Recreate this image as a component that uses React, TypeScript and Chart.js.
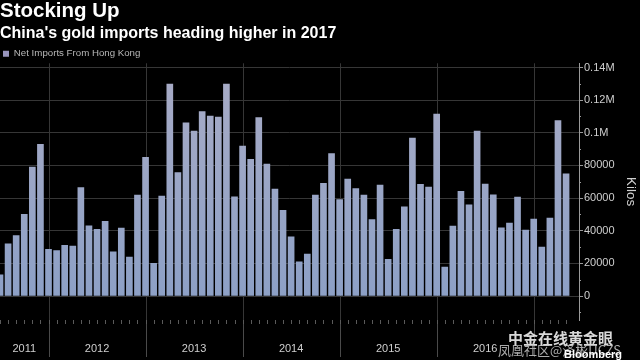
import React, { useEffect, useRef } from "react";
import { Chart, registerables } from "chart.js";

Chart.register(...registerables);

// ---- data ----
const START_YEAR = 2011;
const START_MONTH = 6; // first bar: June 2011 (month-end)
const netImports = [
  13000, 32000, 37000, 50000, 79000, 93000, 28600,
  27800, 31000, 30600, 66500, 43000, 40800, 45700, 27100, 41600, 23900, 61800, 84900,
  20000, 61200, 129800, 75700, 106100, 101000, 113000, 110200, 109600, 129800, 60800, 91800,
  83700, 109400, 80800, 65500, 52500, 36300, 21000, 25700, 61800, 69000, 87200, 59100,
  71700, 65800, 61800, 46800, 68000, 22400, 40800, 54700, 96700, 68400, 66700, 111400,
  17800, 42900, 64100, 55900, 101000, 68600, 62000, 41800, 44700, 60600, 40400, 47100,
  30000, 47700, 107500, 74900,
];
const months = netImports.map((_, i) => {
  const m = START_MONTH - 1 + i;
  return `${START_YEAR + Math.floor(m / 12)}-${String((m % 12) + 1).padStart(2, "0")}`;
});
const yearLabels = ["2011", "2012", "2013", "2014", "2015", "2016"];
const yTicks = [0, 20000, 40000, 60000, 80000, 100000, 120000, 140000];
const yMinorTicks = [-10000, 10000, 30000, 50000, 70000, 90000, 110000, 130000];

const X_MIN = 0;
const X_MAX = 71.6;
const Y_MIN = -14700;
const Y_MAX = 142600;

const BAR_TOP = "#a9acc6";
const BAR_BOTTOM = "#8a9fc6";
const GRID = "#363636";
const AXIS = "#9a9a9a";
const TEXT = "#cfcfcf";

// year boundaries (December bars, month-end dated -> Jan 1 gridline)
const decIndex = (y: number) => months.indexOf(`${y}-12`);
const boundaries = months
  .map((m, i) => (m.endsWith("-12") ? i : -1))
  .filter((i) => i >= 0);
const yearTickPos = yearLabels.map((ys) => {
  const y = Number(ys);
  const start = y === START_YEAR ? X_MIN : decIndex(y - 1);
  const end = decIndex(y);
  return (start + end) / 2;
});

const fmtY = (v: number) => (v >= 100000 ? `${v / 1e6}M` : `${v}`);

const decorPlugin = {
  id: "decor",
  beforeDatasetsDraw(chart: any) {
    const { ctx, chartArea, scales } = chart;
    const x = scales.x;
    ctx.save();
    ctx.lineWidth = 1;
    ctx.strokeStyle = GRID;
    boundaries.forEach((i: number) => {
      const px = Math.round(x.getPixelForValue(i)) + 0.5;
      ctx.beginPath();
      ctx.moveTo(px, chartArea.top);
      ctx.lineTo(px, chartArea.bottom);
      ctx.stroke();
    });
    ctx.strokeStyle = "#4a4a4a";
    boundaries.forEach((i: number) => {
      const px = Math.round(x.getPixelForValue(i)) + 0.5;
      ctx.beginPath();
      ctx.moveTo(px, chartArea.bottom);
      ctx.lineTo(px, chart.height - 3);
      ctx.stroke();
    });
    ctx.strokeStyle = "#5a5a5a";
    netImports.forEach((_, i) => {
      const px = Math.round(x.getPixelForValue(i)) + 0.5;
      ctx.beginPath();
      ctx.moveTo(px, chartArea.bottom);
      ctx.lineTo(px, chartArea.bottom + 4);
      ctx.stroke();
    });
    ctx.restore();
  },
  afterDraw(chart: any) {
    const { ctx, scales } = chart;
    const y = scales.y;
    ctx.save();
    ctx.strokeStyle = AXIS;
    ctx.lineWidth = 1;
    yMinorTicks.forEach((v) => {
      const py = Math.round(y.getPixelForValue(v)) + 0.5;
      ctx.beginPath();
      ctx.moveTo(y.left, py);
      ctx.lineTo(y.left + 2, py);
      ctx.stroke();
    });
    // source / watermark text
    ctx.textBaseline = "middle";
    ctx.fillStyle = "rgba(235,235,235,0.92)";
    ctx.font = "bold 15px 'Noto Sans CJK SC'";
    ctx.textAlign = "left";
    ctx.fillText("中金在线黄金眼", 508, 338);
    ctx.fillStyle = "rgba(200,200,200,0.85)";
    ctx.font = "13px 'Noto Sans CJK SC'";
    ctx.fillText("凤凰社区@泽彬UCZS", 498, 350);
    ctx.fillStyle = "#ffffff";
    ctx.font = "bold 11px 'Liberation Sans'";
    ctx.textAlign = "right";
    ctx.fillText("Bloomberg", 622, 355);
    ctx.restore();
  },
};

export default function App() {
  const ref = useRef<HTMLCanvasElement | null>(null);

  useEffect(() => {
    if (!ref.current) return;
    Chart.defaults.font.family = "'Liberation Sans', Arial, sans-serif";
    const chart = new Chart(ref.current, {
      type: "bar",
      data: {
        datasets: [
          {
            label: "Net Imports From Hong Kong",
            data: netImports.map((v, i) => ({ x: i, y: v })),
            backgroundColor: (c: any) => {
              const area = c.chart.chartArea;
              if (!area) return BAR_BOTTOM;
              const g = c.chart.ctx.createLinearGradient(0, area.top, 0, area.bottom);
              g.addColorStop(0, BAR_TOP);
              g.addColorStop(1, BAR_BOTTOM);
              return g;
            },
            borderWidth: 0,
            barThickness: 6,
          },
        ],
      },
      options: {
        responsive: false,
        animation: false,
        layout: { padding: 0 },
        plugins: {
          tooltip: { enabled: false },
          title: {
            display: true,
            text: "Stocking Up",
            align: "start",
            color: "#ffffff",
            font: { size: 20.5, weight: "bold", lineHeight: 1.15 },
            padding: { top: 0, bottom: 0 },
          },
          subtitle: {
            display: true,
            text: "China's gold imports heading higher in 2017",
            align: "start",
            color: "#ffffff",
            font: { size: 16, weight: "bold", lineHeight: 1.2 },
            padding: { top: 0, bottom: 3 },
          },
          legend: {
            display: true,
            position: "top",
            align: "start",
            maxHeight: 17.5,
            labels: {
              boxWidth: 6,
              boxHeight: 6,
              padding: 3,
              color: "#b8b8b8",
              font: { size: 9.7 },
              generateLabels: (ch: any) =>
                ch.data.datasets.map((d: any, i: number) => ({
                  text: d.label,
                  fillStyle: "#9895bd",
                  strokeStyle: "#9895bd",
                  lineWidth: 0,
                  hidden: false,
                  datasetIndex: i,
                  fontColor: "#b8b8b8",
                })),
            },
          },
        },
        scales: {
          x: {
            type: "linear",
            min: X_MIN,
            max: X_MAX,
            offset: false,
            grid: { display: false, drawTicks: false },
            border: { display: false },
            afterBuildTicks: (s: any) => {
              s.ticks = yearTickPos.map((v) => ({ value: v }));
            },
            afterFit: (s: any) => {
              s.height = 40;
              s.paddingLeft = 0;
              s.paddingRight = 0;
            },
            ticks: {
              autoSkip: false,
              maxRotation: 0,
              padding: 22,
              color: TEXT,
              font: { size: 11 },
              callback: (_v: any, i: number) => yearLabels[i],
            },
          },
          y: {
            type: "linear",
            position: "right",
            min: Y_MIN,
            max: Y_MAX,
            afterBuildTicks: (s: any) => {
              s.ticks = yTicks.map((v) => ({ value: v }));
            },
            afterFit: (s: any) => {
              s.width = 61;
            },
            grid: {
              color: GRID,
              tickColor: AXIS,
              tickLength: 4,
              drawTicks: true,
            },
            border: { display: true, color: AXIS },
            ticks: {
              padding: 1,
              color: TEXT,
              font: { size: 11 },
              callback: (v: any) => fmtY(Number(v)),
            },
            title: {
              display: true,
              text: "Kilos",
              color: TEXT,
              font: { size: 13.5, lineHeight: 1.2 },
              padding: { top: 1.4, bottom: 0 },
            },
          },
        },
      },
      plugins: [decorPlugin],
    });
    return () => chart.destroy();
  }, []);

  return (
    <div
      style={{
        position: "fixed",
        left: 0,
        top: 0,
        width: 640,
        height: 360,
        background: "#000",
      }}
    >
      <canvas ref={ref} width={640} height={360} style={{ width: 640, height: 360, display: "block" }} />
    </div>
  );
}
